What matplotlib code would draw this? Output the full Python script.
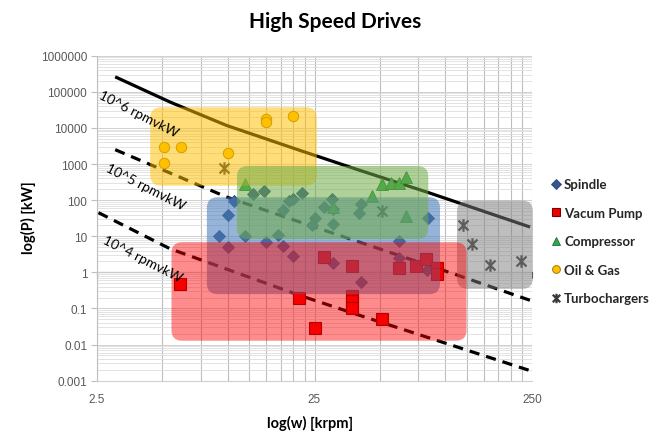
import numpy as np
import matplotlib
matplotlib.use("Agg")
import matplotlib.pyplot as plt
from matplotlib.patches import FancyBboxPatch
from matplotlib.path import Path

# ---------------- data ----------------
spindle_x = [9.1, 10, 10.7, 10, 12, 13, 14.7, 15, 17, 18, 18, 19, 20, 20, 22, 25, 24.3,
             27.5, 30, 30.5, 30.5, 30.5, 41, 40, 41, 61, 61, 83, 82]
spindle_y = [10.4, 40, 97, 5, 10, 150, 180, 7, 11, 5.5, 53, 95, 110, 2.9, 155, 33, 20,
             63, 108, 57, 22, 1.8, 78, 43, 0.53, 7.2, 2.5, 32, 1.2]

vacuum_x = [6, 21.3, 25, 27.5, 37, 37, 37, 37, 51, 61, 73, 81, 91, 91]
vacuum_y = [0.48, 0.19, 0.028, 2.6, 1.5, 0.22, 0.16, 0.1, 0.05, 1.3, 1.5, 2.3, 1.3, 0.9]

compressor_x = [12, 30.5, 46, 51, 56, 61, 66, 66]
compressor_y = [280, 63, 130, 280, 290, 290, 450, 37]

oilgas_x = [5.1, 6.1, 5.1, 10, 15, 15, 20]
oilgas_y = [3000, 3000, 1050, 2000, 18000, 15000, 21000]

turbo_x = [9.6, 51, 120, 132, 161, 222]
turbo_y = [780, 51, 20, 6.1, 1.6, 2.1]

line6_x = [3.03, 5.42, 9.86, 21.4, 40.5, 82, 245]
line6_y = [260000, 52000, 11700, 2390, 665, 168, 18]
line5_x = [3.03, 9.86, 21.4, 108.6, 245]
line5_y = [2500, 122, 24.8, 0.92, 0.168]
line4_x = [2.54, 5.42, 21.4, 40.5, 245]
line4_y = [45, 4.5, 0.23, 0.064, 0.0019]

# application regions (x range krpm, y range kW)
region_oil = [(4.39, 25.6), (251, 37200)]
region_spindle = [(8.0, 94.4), (0.25, 120)]
region_comp = [(11.0, 83.4), (8.4, 880)]
region_turbo = [(113, 250), (0.35, 97)]
region_vac = [(5.5, 125), (0.0128, 6.8)]

series_labels = ["Spindle", "Vacum Pump", "Compressor", "Oil & Gas", "Turbochargers"]
line_labels = ["10^6 rpmvkW", "10^5 rpmvkW", "10^4 rpmvkW"]
ytick_vals = [1e-3, 1e-2, 1e-1, 1, 10, 100, 1e3, 1e4, 1e5, 1e6]
ytick_labels = ["0.001", "0.01", "0.1", "1", "10", "100", "1000", "10000", "100000", "1000000"]
xtick_vals = [2.5, 25, 250]
xtick_labels = ["2.5", "25", "250"]

# ---------------- figure ----------------
W, H = 670, 435
fig = plt.figure(figsize=(W / 100, H / 100), dpi=100)
L, R, T, B = 97, 532, 56.7, 381.7
ax = fig.add_axes([L / W, 1 - B / H, (R - L) / W, (B - T) / H])
ax.set_xscale("log")
ax.set_yscale("log")
XMIN, XMAX, YMIN, YMAX = 2.5, 250, 1e-3, 1e6
ax.set_xlim(XMIN, XMAX)
ax.set_ylim(YMIN, YMAX)

tickfont = dict(family="Liberation Sans", size=8.5)
ax.set_xticks(xtick_vals)
ax.set_xticklabels(xtick_labels, color="#595959", **tickfont)
xminor = [2.5 * k * 10 ** n for n in range(2) for k in range(2, 10)]
ax.set_xticks(xminor, minor=True)
ax.set_xticklabels([], minor=True)
ax.set_yticks(ytick_vals)
ax.set_yticklabels(ytick_labels, color="#595959", **tickfont)
yminor = [k * 10.0 ** n for n in range(-3, 6) for k in range(2, 10)]
ax.set_yticks(yminor, minor=True)
ax.set_yticklabels([], minor=True)
ax.tick_params(axis="x", which="both", length=0, pad=9)
ax.tick_params(axis="y", which="major", length=4, color="#BFBFBF", direction="out", pad=3)
ax.tick_params(axis="y", which="minor", length=0)

ax.grid(True, axis="x", which="both", color="#BDBDBD", lw=0.8, zorder=0)
ax.grid(True, axis="y", which="major", color="#D0D0D0", lw=0.7, zorder=0)
ax.grid(True, axis="y", which="minor", color="#DEDEDE", lw=0.6, zorder=0)
ax.set_axisbelow(True)
for s in ["top", "right"]:
    ax.spines[s].set_visible(False)
ax.spines["left"].set_color("#BFBFBF")
ax.spines["bottom"].set_color("#D0D0D0")

# crossing axis at y = 1
frac1 = (np.log10(1) - np.log10(YMIN)) / (np.log10(YMAX) - np.log10(YMIN))
ax2 = ax.secondary_xaxis(frac1)
ax2.set_xticks(xtick_vals)
ax2.set_xticklabels([])
ax2.set_xticks(xminor, minor=True)
ax2.set_xticklabels([], minor=True)
ax2.tick_params(which="both", direction="out", length=4, color="#404040", width=0.8)
ax2.spines["bottom"].set_color("#404040")
ax2.spines["top"].set_color("#404040")

# lines
ax.plot(line6_x, line6_y, color="black", lw=2.3, zorder=3, solid_capstyle="butt")
ax.plot(line5_x, line5_y, color="black", lw=2.3, ls=(0, (3.2, 2.2)), zorder=3)
ax.plot(line4_x, line4_y, color="black", lw=2.3, ls=(0, (3.2, 2.2)), zorder=3)

lblfont = dict(family="Lato", size=9.8, color="black", rotation=-27,
               ha="center", va="center", rotation_mode="anchor", zorder=7)
ax.text(3.9, 24500, line_labels[0], **lblfont)
ax.text(4.16, 245, line_labels[1], **lblfont)
ax.text(4.03, 2.5, line_labels[2], **lblfont)

# markers
asterisk = Path([(-1, -1), (1, 1), (-1, 1), (1, -1), (0, -1.25), (0, 1.25)],
                [Path.MOVETO, Path.LINETO, Path.MOVETO, Path.LINETO, Path.MOVETO, Path.LINETO])
h1, = ax.plot(spindle_x, spindle_y, ls="none", marker="D", ms=6.5, mfc="#35578C",
              mec="#2A4670", mew=0.6, zorder=3, label=series_labels[0])
h2, = ax.plot(vacuum_x, vacuum_y, ls="none", marker="s", ms=8, mfc="#F00000",
              mec="#7A0000", mew=0.8, zorder=3, label=series_labels[1])
h3, = ax.plot(compressor_x, compressor_y, ls="none", marker="^", ms=8.5, mfc="#2EA84A",
              mec="#1F6E33", mew=0.6, zorder=3, label=series_labels[2])
h4, = ax.plot(oilgas_x, oilgas_y, ls="none", marker="o", ms=7.5, mfc="#FFC000",
              mec="#A87A00", mew=0.7, zorder=3, label=series_labels[3])
h5, = ax.plot(turbo_x, turbo_y, ls="none", marker=asterisk, ms=9, mfc="none",
              mec="#3A3A3A", mew=1.6, zorder=3, label=series_labels[4])

# translucent rounded regions (axes-fraction coordinates)
def fx(v):
    return (np.log10(v) - np.log10(XMIN)) / (np.log10(XMAX) - np.log10(XMIN))

def fy(v):
    return (np.log10(v) - np.log10(YMIN)) / (np.log10(YMAX) - np.log10(YMIN))

aspect = (R - L) / (B - T)
def region(rng, color, alpha, z, xpad_right=0.0):
    (x0, x1), (y0, y1) = rng
    X0, X1, Y0, Y1 = fx(x0), fx(x1) + xpad_right, fy(y0), fy(y1)
    p = FancyBboxPatch((X0, Y0), X1 - X0, Y1 - Y0,
                       boxstyle="round,pad=0,rounding_size=0.024",
                       mutation_aspect=aspect, transform=ax.transAxes,
                       facecolor=color, edgecolor="none", alpha=alpha, zorder=z,
                       clip_on=False)
    ax.add_patch(p)

region(region_oil, "#FFC000", 0.52, 4.0)
region(region_spindle, "#4A7EBB", 0.58, 4.1)
region(region_comp, "#70AD47", 0.55, 4.2)
region(region_turbo, "#7F7F7F", 0.5, 4.3, xpad_right=0.002)
region(region_vac, "#FF0000", 0.45, 4.4)

# title & labels
fig.text(0.5, 1 - 22 / H, "High Speed Drives", ha="center", va="center",
         family="Lato", weight="bold", size=15, color="black")
fig.text(310 / W, 1 - 423 / H, "log(w) [krpm]", ha="center", va="center",
         family="Lato", weight="bold", size=10.5, color="black")
fig.text(28 / W, 1 - 218 / H, "log(P) [kW]", ha="center", va="center", rotation=90,
         family="Lato", weight="bold", size=10.5, color="black")

leg = fig.legend(handles=[h1, h2, h3, h4, h5], loc="upper left",
                 bbox_to_anchor=(545 / W, 1 - 174 / H), frameon=False,
                 prop=dict(family="Lato", weight="bold", size=9.5),
                 labelspacing=1.25, handlelength=0.8, handletextpad=0.25,
                 markerscale=0.75, borderaxespad=0)
for t in leg.get_texts():
    t.set_color("#262626")

fig.savefig("out.png", dpi=100)
